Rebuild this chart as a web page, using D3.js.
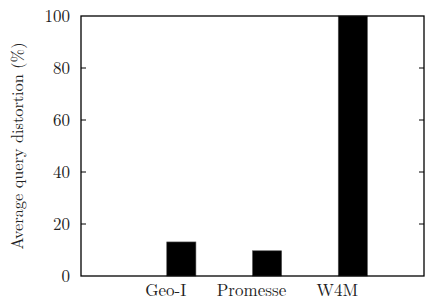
<!DOCTYPE html>
<html>
<head>
<meta charset="utf-8">
<script src="https://cdn.jsdelivr.net/npm/d3@7"></script>
<style>
  body { margin: 0; background: #fff; }
  svg { display: block; }
</style>
</head>
<body>
<script>
const categories = ["Geo-I", "Promesse", "W4M"];
const distortion = [13.1, 9.7, 100];
const yTicks = [0, 20, 40, 60, 80, 100];

const width = 426, height = 301;
const margin = { top: 16, right: 2, bottom: 25, left: 81 };
const font = "Latin Modern Roman";

const x = d3.scaleLinear().domain([-1, 3]).range([margin.left, width - margin.right]);
const y = d3.scaleLinear().domain([0, 100]).range([height - margin.bottom, margin.top]);
const barW = 0.34;

const svg = d3.select("body").append("svg")
    .attr("width", width)
    .attr("height", height);

// bars
svg.append("g")
  .selectAll("rect")
  .data(distortion)
  .join("rect")
    .attr("x", (d, i) => x(i))
    .attr("y", d => y(d))
    .attr("width", x(barW) - x(0))
    .attr("height", d => y(0) - y(d))
    .attr("fill", "#000")
    .attr("stroke", "#555")
    .attr("stroke-width", 0.6);

// y ticks, left and mirrored right
const tk = svg.append("g").attr("stroke", "#000").attr("stroke-width", 1);
tk.selectAll("line.l")
  .data(yTicks.slice(1, -1))
  .join("line")
    .attr("class", "l")
    .attr("x1", x(-1)).attr("x2", x(-1) + 5)
    .attr("y1", d => y(d)).attr("y2", d => y(d));
tk.selectAll("line.r")
  .data(yTicks.slice(1, -1))
  .join("line")
    .attr("class", "r")
    .attr("x1", x(3)).attr("x2", x(3) - 5)
    .attr("y1", d => y(d)).attr("y2", d => y(d));

// frame
svg.append("rect")
    .attr("x", x(-1))
    .attr("y", y(100))
    .attr("width", x(3) - x(-1))
    .attr("height", y(0) - y(100))
    .attr("fill", "none")
    .attr("stroke", "#000")
    .attr("stroke-width", 1.3);

// y tick labels
svg.append("g")
  .selectAll("text")
  .data(yTicks)
  .join("text")
    .attr("x", x(-1) - 11)
    .attr("y", d => y(d))
    .attr("dy", "0.35em")
    .attr("text-anchor", "end")
    .attr("font-family", font)
    .attr("font-size", 17)
    .attr("fill", "#222")
    .text(d => d);

// x labels
svg.append("g")
  .selectAll("text")
  .data(categories)
  .join("text")
    .attr("x", (d, i) => x(i) - 1)
    .attr("y", y(0) + 20)
    .attr("text-anchor", "middle")
    .attr("font-family", font)
    .attr("font-size", 17)
    .attr("fill", "#222")
    .text(d => d);

// y axis title
svg.append("text")
    .attr("transform", `translate(23,${(y(0) + y(100)) / 2}) rotate(-90)`)
    .attr("text-anchor", "middle")
    .attr("font-family", font)
    .attr("font-size", 16.3)
    .attr("fill", "#222")
    .text("Average query distortion (%)");
</script>
</body>
</html>
